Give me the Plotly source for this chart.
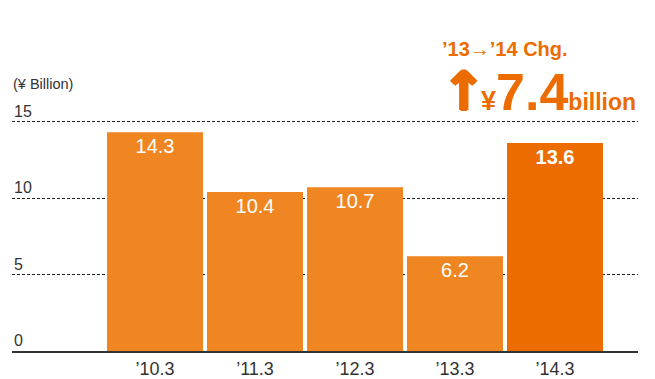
import plotly.graph_objects as go

categories = ["’10.3", "’11.3", "’12.3", "’13.3", "’14.3"]
values = [14.3, 10.4, 10.7, 6.2, 13.6]
bar_colors = ["#EF8621", "#EF8621", "#EF8621", "#EF8621", "#EC6C00"]
y_ticks = [0, 5, 10, 15]
change_label = "’13→’14 Chg."
change_value = "7.4"

W, H = 655, 379
L, R, T, B = 12, 17, 117, 28
pw, ph = W - L - R, H - T - B

def px(x):
    return (x - L) / pw

def py(y):
    return (H - B - y) / ph

sans = "Liberation Sans, Arial, Helvetica, sans-serif"
orange = "#EC6C00"

fig = go.Figure()
fig.add_trace(go.Bar(
    x=list(range(len(categories))),
    y=values,
    marker=dict(color=bar_colors, line=dict(width=0)),
    width=0.96,
    text=[f"{v:.1f}" if i < 4 else f"<b>{v:.1f}</b>" for i, v in enumerate(values)],
    textposition="inside",
    insidetextanchor="end",
    textangle=0,
    textfont=dict(color="white", size=20, family=sans),
    hoverinfo="skip",
))

fig.update_layout(
    width=W, height=H,
    margin=dict(l=L, r=R, t=T, b=B),
    paper_bgcolor="white", plot_bgcolor="white",
    showlegend=False,
    xaxis=dict(
        range=[-1.43, 4.83],
        tickmode="array",
        tickvals=list(range(len(categories))),
        ticktext=categories,
        showgrid=False, zeroline=False,
        showline=True, linecolor="#333333", linewidth=1.5,
        ticks="", ticklabelstandoff=1,
        tickfont=dict(size=18, color="#333333", family=sans),
        automargin=False, fixedrange=True,
    ),
    yaxis=dict(
        range=[0, 15.3],
        tickmode="array",
        tickvals=y_ticks,
        showticklabels=False,
        showgrid=True, gridcolor="#222222", gridwidth=1, griddash="3px,2px",
        zeroline=False, showline=False, ticks="",
        automargin=False, fixedrange=True,
    ),
)

for t in y_ticks:
    fig.add_annotation(
        xref="paper", yref="y", x=0, y=t,
        xanchor="left", yanchor="bottom", yshift=0, showarrow=False,
        text=str(t), font=dict(size=16, color="#333333", family=sans),
    )

fig.add_annotation(
    xref="paper", yref="paper", x=px(11), y=py(84),
    xanchor="left", yanchor="middle", showarrow=False,
    text="(¥ Billion)", font=dict(size=14.5, color="#333333", family=sans),
)

fig.add_annotation(
    xref="paper", yref="paper", x=px(505), y=py(49),
    xanchor="center", yanchor="middle", showarrow=False,
    text=f"<b>{change_label}</b>",
    font=dict(size=20, color=orange, family=sans),
)
fig.add_annotation(
    xref="paper", yref="paper", x=px(463), y=py(92),
    xanchor="center", yanchor="middle", showarrow=False,
    text="<b>↑</b>",
    font=dict(size=54, color=orange, family="DejaVu Sans, sans-serif",
              shadow="1.5px 0 0 #EC6C00, -1.5px 0 0 #EC6C00, 0 1px 0 #EC6C00, 0 -1px 0 #EC6C00"),
)
fig.add_annotation(
    xref="paper", yref="paper", x=px(638), y=py(92),
    xanchor="right", yanchor="middle", showarrow=False,
    text=("<b><span style='font-size:27px'>¥</span>"
          f"<span style='font-size:52px'>{change_value}</span>"
          "<span style='font-size:23px'>billion</span></b>"),
    font=dict(size=23, color=orange, family=sans),
)

fig.write_html(
    "out.html",
    config={"displayModeBar": False, "staticPlot": True},
    post_script="document.body.style.margin='0px';document.body.style.padding='0px';",
)
